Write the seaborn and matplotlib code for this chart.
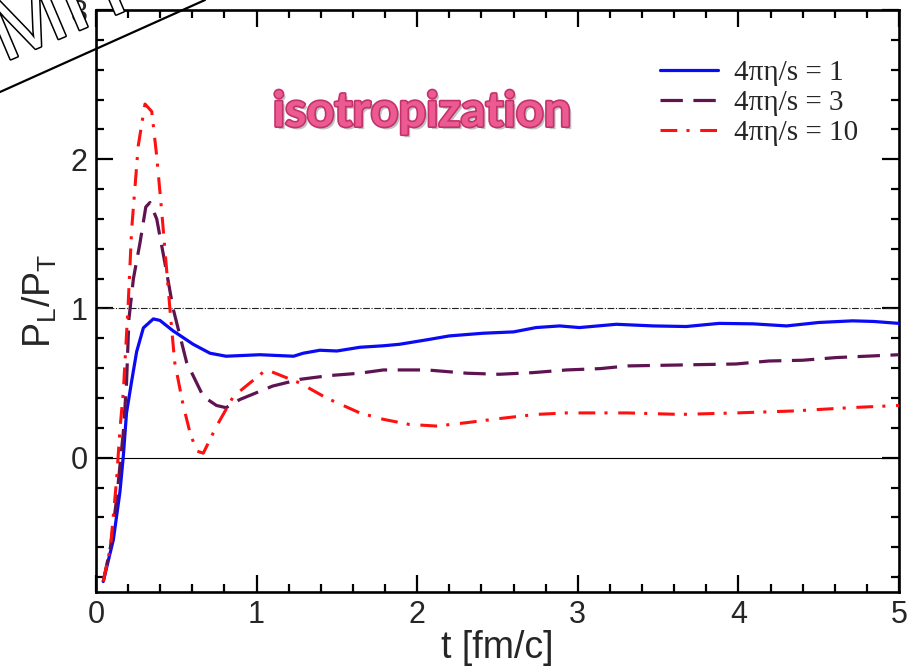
import numpy as np
import pandas as pd
import matplotlib
matplotlib.use("Agg")
import matplotlib.pyplot as plt
import matplotlib.patheffects as pe
from matplotlib.ticker import MultipleLocator
import seaborn as sns

# ---- data ----
t_1 = [0.045, 0.108, 0.149, 0.17, 0.19, 0.22, 0.253, 0.295, 0.357, 0.398, 0.48, 0.605,
       0.71, 0.81, 1.02, 1.23, 1.29, 1.394, 1.5, 1.643, 1.79, 1.89, 2.06, 2.2, 2.41, 2.6,
       2.74, 2.887, 3.01, 3.24, 3.47, 3.675, 3.88, 4.09, 4.3, 4.5, 4.71, 4.84, 5.0]
r_1 = [-0.83, -0.55, -0.23, 0.01, 0.30, 0.50, 0.71, 0.87, 0.93, 0.92, 0.85, 0.76,
       0.70, 0.68, 0.69, 0.68, 0.70, 0.72, 0.715, 0.74, 0.75, 0.76, 0.79, 0.816, 0.834, 0.843,
       0.872, 0.883, 0.872, 0.894, 0.883, 0.879, 0.90, 0.897, 0.883, 0.906, 0.917, 0.913, 0.90]

t_3 = [0.045, 0.09, 0.128, 0.17, 0.19, 0.205, 0.233, 0.274, 0.31, 0.336, 0.378, 0.43,
       0.48, 0.564, 0.668, 0.75, 0.81, 0.896, 1.1, 1.27, 1.45, 1.64, 1.79, 2.06, 2.31,
       2.51, 2.72, 2.93, 3.14, 3.31, 3.57, 3.985, 4.19, 4.4, 4.61, 5.0]
r_3 = [-0.83, -0.6, -0.28, 0.17, 0.50, 0.93, 1.20, 1.44, 1.68, 1.71, 1.60, 1.30,
       1.0, 0.64, 0.41, 0.35, 0.335, 0.39, 0.48, 0.525, 0.55, 0.566, 0.588, 0.588, 0.566,
       0.559, 0.57, 0.588, 0.597, 0.615, 0.62, 0.628, 0.648, 0.653, 0.671, 0.69]

t_10 = [0.045, 0.09, 0.128, 0.149, 0.17, 0.2, 0.222, 0.263, 0.305, 0.347, 0.378, 0.41,
        0.46, 0.49, 0.543, 0.585, 0.626, 0.668, 0.75, 0.855, 1.06, 1.27, 1.435, 1.643,
        1.79, 1.95, 2.12, 2.31, 2.51, 2.74, 2.93, 3.16, 3.31, 3.64, 3.985, 4.34, 4.71, 5.0]
r_10 = [-0.83, -0.6, -0.15, 0.19, 0.44, 1.02, 1.53, 2.09, 2.37, 2.32, 2.02, 1.64,
        1.0, 0.64, 0.35, 0.17, 0.045, 0.03, 0.21, 0.41, 0.59, 0.50, 0.40, 0.30,
        0.257, 0.223, 0.212, 0.235, 0.262, 0.29, 0.30, 0.30, 0.30, 0.29, 0.30, 0.313, 0.336, 0.35]

labels = ["4πη/s = 1", "4πη/s = 3", "4πη/s = 10"]
x_ticks = [0, 1, 2, 3, 4, 5]
y_ticks = [0, 1, 2, 3]

sns.set_theme(style="white")
plt.rcParams["font.family"] = ["Liberation Sans", "DejaVu Sans"]

fig = plt.figure(figsize=(9.2, 6.68), dpi=100)
ax = fig.add_axes([96/920, 76/668, 803/920, 582/668])

ax.axhline(0, color="black", lw=0.8, zorder=1)
ax.axhline(1, color="#222222", lw=0.8, linestyle=(0, (6, 1.5, 1, 1.5)), zorder=1)

sns.lineplot(x=t_1, y=r_1, ax=ax, color="#0a0af5", lw=2.3, label=labels[0], zorder=3)
sns.lineplot(x=t_3, y=r_3, ax=ax, color="#5e1450", lw=2.3, linestyle=(0, (7, 3.3)),
             label=labels[1], zorder=3)
sns.lineplot(x=t_10, y=r_10, ax=ax, color="#ff1010", lw=2.2, linestyle=(0, (5.5, 3, 1, 3.5)),
             label=labels[2], zorder=3)

ax.set_xlim(0, 5)
ax.set_ylim(-0.9, 3.0)
ax.set_xticks(x_ticks)
ax.set_yticks(y_ticks)
ax.xaxis.set_minor_locator(MultipleLocator(0.2))
ax.yaxis.set_minor_locator(MultipleLocator(0.2))
ax.tick_params(which="both", direction="in", top=True, right=True, bottom=True, left=True,
               color="black", width=1.6)
ax.tick_params(which="major", length=12, labelsize=22, pad=6)
ax.tick_params(which="minor", length=6)
for s in ax.spines.values():
    s.set_color("black")
    s.set_linewidth(1.9)

ax.set_xlabel("t [fm/c]", fontsize=27, labelpad=0)
ax.set_ylabel(r"$\mathregular{P_L/P_T}$", fontsize=27, labelpad=8)

leg = ax.legend(loc="upper left", bbox_to_anchor=(0.702, 0.914), frameon=False, borderpad=0,
                borderaxespad=0,
                prop={"family": "Liberation Serif", "size": 21},
                handlelength=2.0, handletextpad=0.55, labelspacing=0.12)

ax.text(0.406, 0.825, "isotropization", transform=ax.transAxes, ha="center", va="center",
        fontsize=35, fontweight="bold", family="Lato", color="#ec5a91",
        path_effects=[pe.withSimplePatchShadow(offset=(2, -2), shadow_rgbFace="#999999", alpha=0.6),
                      pe.Stroke(linewidth=2.4, foreground="#c2336c"), pe.Normal()])

# overlay in top-left corner
fig.text(4/920, 1 - 62/668, "MIT", rotation=23, rotation_mode="anchor", ha="left",
         va="baseline", fontsize=64, color="white", family="Liberation Sans",
         path_effects=[pe.Stroke(linewidth=2.2, foreground="black"), pe.Normal()], zorder=10)
fig.add_artist(plt.Line2D([0, 205/920], [1 - 92/668, 1.0], transform=fig.transFigure,
                          color="black", lw=1.6, zorder=11))

fig.savefig("out.png", dpi=100)
